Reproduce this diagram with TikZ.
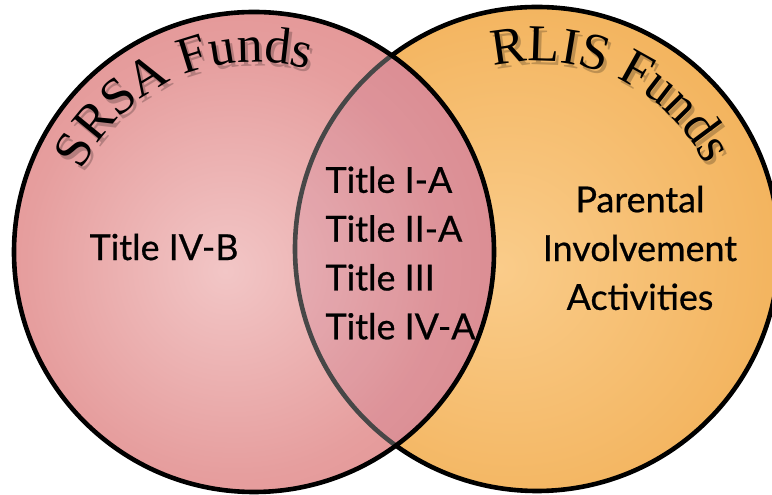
\documentclass[tikz,border=0pt]{standalone}
\usepackage{fontspec}
\setmainfont{Lato}
\newfontfamily\bodyfont[FakeBold=0.6]{Lato}
\newfontfamily\titlefont{Liberation Serif}
\usepackage{xcolor}
\usepackage{tikz}
\usetikzlibrary{decorations.text}

\definecolor{srsaIn}{RGB}{242,198,198}
\definecolor{srsaMid}{RGB}{230,158,158}
\definecolor{srsaOut}{RGB}{220,128,128}
\definecolor{rlisIn}{RGB}{250,204,138}
\definecolor{rlisOut}{RGB}{237,160,58}
\definecolor{lensTint}{RGB}{150,50,110}

\pgfdeclareradialshading{srsaglow}{\pgfpoint{-3bp}{-2bp}}{color(0bp)=(srsaIn); color(22bp)=(srsaMid); color(50bp)=(srsaOut); color(60bp)=(srsaOut)}
\pgfdeclareradialshading{rlisglow}{\pgfpoint{-4bp}{-2bp}}{color(0bp)=(rlisIn); color(50bp)=(rlisOut); color(60bp)=(rlisOut)}

\begin{document}
\begin{tikzpicture}[x=1bp, y=1bp,
        fundtext/.style={font=\bodyfont\fontsize{36}{49}\selectfont, text=black},
        rim/.style={line width=4.6bp}]
        \useasboundingbox (0,0) rectangle (772,495);

        % Circle centres
        \coordinate (lc) at (254,243);
        \coordinate (rc) at (537,246);

        % RLIS circle (underneath)
        \shade[shading=rlisglow] (rc) circle[radius=242];
        \draw[rim] (rc) circle[radius=242];

        % SRSA circle (on top)
        \shade[shading=srsaglow] (lc) circle[radius=240];
        \begin{scope}
            \clip (lc) circle[radius=240];
            \fill[lensTint, opacity=0.1] (rc) circle[radius=242];
            \draw[rim, black!72] (rc) circle[radius=242];
        \end{scope}
        \draw[rim] (lc) circle[radius=240];

        % Curved titles (shadow first)
        \begin{scope}[opacity=0.22]
            \path[decorate, decoration={text along path, text align=center,
                text={|\titlefont\fontsize{52}{52}\selectfont|SRSA Funds}}]
                ([shift={(3,-4)}]lc) ++(155:190) arc[start angle=155, end angle=73, radius=190];
            \path[decorate, decoration={text along path, text align=center,
                text={|\titlefont\fontsize{52}{52}\selectfont|RLIS Funds}}]
                ([shift={(3,-4)}]rc) ++(104:188) arc[start angle=104, end angle=26, radius=188];
        \end{scope}
        \path[decorate, decoration={text along path, text align=center,
            text={|\titlefont\fontsize{52}{52}\selectfont|SRSA Funds}}]
            (lc) ++(155:190) arc[start angle=155, end angle=73, radius=190];
        \path[decorate, decoration={text along path, text align=center,
            text={|\titlefont\fontsize{52}{52}\selectfont|RLIS Funds}}]
            (rc) ++(104:188) arc[start angle=104, end angle=26, radius=188];

        % Programme labels
        \node[fundtext] (srsaonly) at (164,248) {Title IV-B};
        \node[fundtext, align=left, anchor=west] (both) at (322,242)
            {Title I-A\\Title II-A\\Title III\\Title IV-A};
        \node[fundtext, align=center] (rlisonly) at (640,247)
            {Parental\\Involvement\\Activities};
    \end{tikzpicture}
\end{document}
